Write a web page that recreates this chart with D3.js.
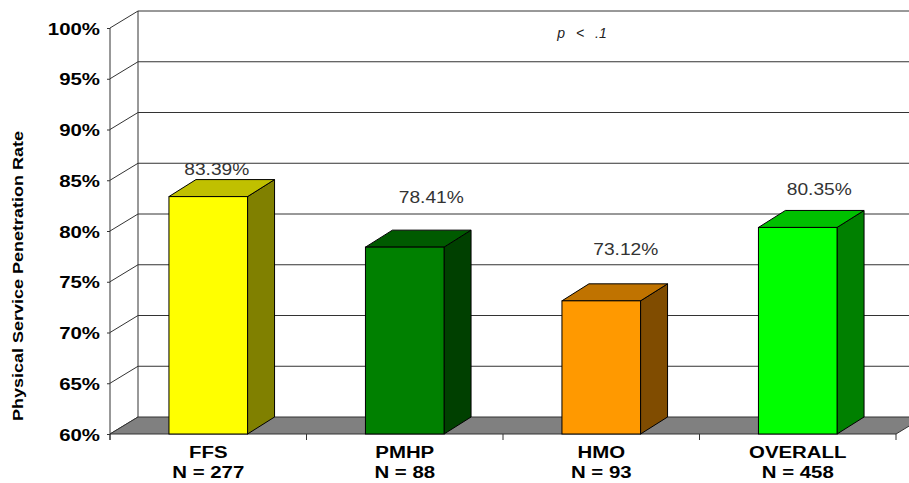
<!DOCTYPE html>
<html>
<head>
<meta charset="utf-8">
<script src="https://cdn.jsdelivr.net/npm/d3@7/dist/d3.min.js"></script>
<style>
  html, body { margin: 0; padding: 0; background: #fff; }
  svg { display: block; }
  text { font-family: "Liberation Sans", Arial, sans-serif; }
</style>
</head>
<body>
<svg id="chart" width="909" height="483"></svg>
<script>
// Physical service penetration rate by plan type
const categories = ["FFS", "PMHP", "HMO", "OVERALL"];
const sampleSizes = [277, 88, 93, 458];
const rates = [83.39, 78.41, 73.12, 80.35];
const yTicks = [60, 65, 70, 75, 80, 85, 90, 95, 100];
const yTitle = "Physical Service Penetration Rate";
const noteText = "p < .1";

// Face colours for each bar: front, top, side
const frontColors = ["#ffff00", "#008000", "#ff9900", "#00ff00"];
const topColors   = ["#c0c000", "#005a00", "#c07300", "#00c000"];
const sideColors  = ["#808000", "#004000", "#804c00", "#008000"];
// Nudges for value labels relative to the top of each bar [dx, dy]
const labelShift = [[-5, -5], [13, -27], [11, -29], [8, -15]];

const svg = d3.select("#chart");
const stretch = 1.2;           // horizontal widening of the chart font
const wallDX = 28, wallDY = -17;
const barDX = 27, barDY = -17;

const x = d3.scaleBand().domain(categories).range([110, 896]).padding(0);
const y = d3.scaleLinear().domain([60, 100]).range([434, 28]);
const barW = x.bandwidth() * 0.4;
const yBase = y(60);

// Back wall gridlines
const grid = svg.append("g");
grid.selectAll("line.back")
  .data(yTicks.filter(t => t > 60))
  .join("line")
  .attr("x1", x.range()[0] + wallDX).attr("x2", 940)
  .attr("y1", d => y(d) + wallDY).attr("y2", d => y(d) + wallDY)
  .attr("stroke", "#333").attr("stroke-width", 1);

// Left wall: diagonals and the back vertical edge
grid.selectAll("line.side")
  .data(yTicks)
  .join("line")
  .attr("x1", x.range()[0]).attr("x2", x.range()[0] + wallDX)
  .attr("y1", d => y(d)).attr("y2", d => y(d) + wallDY)
  .attr("stroke", "#333").attr("stroke-width", 1);
grid.append("line")
  .attr("x1", x.range()[0] + wallDX).attr("x2", x.range()[0] + wallDX)
  .attr("y1", y(100) + wallDY).attr("y2", yBase + wallDY)
  .attr("stroke", "#333");

// Floor
const x0 = x.range()[0], x1 = x.range()[1];
svg.append("polygon")
  .attr("points", [[x0, yBase], [x1, yBase], [x1 + wallDX, yBase + wallDY], [x0 + wallDX, yBase + wallDY]].join(" "))
  .attr("fill", "#808080").attr("stroke", "#333").attr("stroke-width", 1);

// Y axis on the front plane
const yAxis = svg.append("g")
  .attr("transform", `translate(${x0},0)`)
  .call(d3.axisLeft(y).tickValues(yTicks).tickFormat(d => d + "%").tickSize(3).tickPadding(0));
yAxis.select(".domain").remove();
yAxis.selectAll(".tick line").attr("stroke", "#333");
yAxis.selectAll(".tick text")
  .attr("x", -10 / stretch)
  .attr("dy", "0.36em")
  .attr("transform", `scale(${stretch},1)`)
  .attr("fill", "#000")
  .style("font-family", "'Liberation Sans', Arial, sans-serif")
  .style("font-size", "17px")
  .style("font-weight", "bold");
svg.append("line")
  .attr("x1", x0).attr("x2", x0)
  .attr("y1", y(100)).attr("y2", yBase + 6)
  .attr("stroke", "#333");

// Category boundary ticks below the floor
svg.append("g").selectAll("line")
  .data(categories.map(c => x(c)).concat([x1]))
  .join("line")
  .attr("x1", d => d).attr("x2", d => d)
  .attr("y1", yBase).attr("y2", yBase + 6)
  .attr("stroke", "#333");

// Category labels
const catG = svg.append("g").selectAll("g")
  .data(categories)
  .join("g")
  .attr("transform", (d) => `translate(${x(d) + x.bandwidth() / 2},0)`);
catG.append("text")
  .attr("transform", `translate(0,458) scale(${stretch},1)`)
  .attr("text-anchor", "middle")
  .style("font-size", "17px").style("font-weight", "bold")
  .text(d => d);
catG.append("text")
  .attr("transform", `translate(0,478) scale(${stretch},1)`)
  .attr("text-anchor", "middle")
  .style("font-size", "17px").style("font-weight", "bold")
  .text((d, i) => "N = " + sampleSizes[i]);

// 3D bars
const bars = svg.append("g").selectAll("g")
  .data(categories.map((c, i) => ({ c, v: rates[i], i })))
  .join("g");
const bx0 = d => x(d.c) + x.bandwidth() / 2 - barW / 2;
const bx1 = d => x(d.c) + x.bandwidth() / 2 + barW / 2;
bars.append("polygon")
  .attr("points", d => [[bx1(d), y(d.v)], [bx1(d) + barDX, y(d.v) + barDY], [bx1(d) + barDX, yBase + barDY], [bx1(d), yBase]].join(" "))
  .attr("fill", d => sideColors[d.i]).attr("stroke", "#000").attr("stroke-width", 1).attr("stroke-linejoin", "round");
bars.append("polygon")
  .attr("points", d => [[bx0(d), y(d.v)], [bx1(d), y(d.v)], [bx1(d) + barDX, y(d.v) + barDY], [bx0(d) + barDX, y(d.v) + barDY]].join(" "))
  .attr("fill", d => topColors[d.i]).attr("stroke", "#000").attr("stroke-width", 1).attr("stroke-linejoin", "round");
bars.append("rect")
  .attr("x", bx0).attr("y", d => y(d.v))
  .attr("width", barW).attr("height", d => yBase - y(d.v))
  .attr("fill", d => frontColors[d.i]).attr("stroke", "#000").attr("stroke-width", 1);

// Value labels
bars.append("text")
  .attr("transform", d => `translate(${x(d.c) + x.bandwidth() / 2 + barDX / 2 + labelShift[d.i][0]},${y(d.v) + barDY + labelShift[d.i][1]}) scale(${stretch},1)`)
  .attr("text-anchor", "middle")
  .attr("fill", "#333")
  .style("font-size", "16px")
  .text(d => d.v.toFixed(2) + "%");

// Y axis title
svg.append("text")
  .attr("transform", `translate(23,276) rotate(-90) scale(${stretch},1)`)
  .attr("text-anchor", "middle")
  .style("font-size", "15px").style("font-weight", "bold")
  .text(yTitle);

// Significance note
svg.append("text")
  .attr("x", 582).attr("y", 38)
  .attr("text-anchor", "middle")
  .attr("fill", "#222")
  .style("font-size", "14px").style("font-style", "italic")
  .style("word-spacing", "7px")
  .text(noteText);
</script>
</body>
</html>
